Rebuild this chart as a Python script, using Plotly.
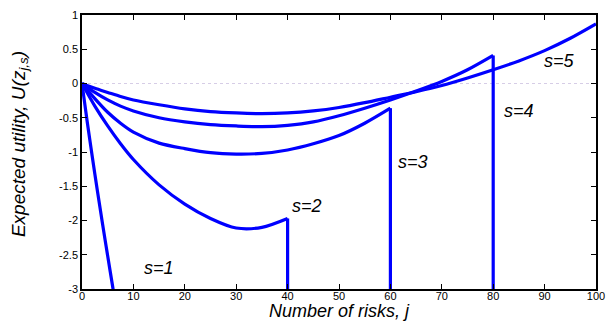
import plotly.graph_objects as go

# ---- data ----
j_s1 = [0, 1, 2, 3, 4, 5, 6, 7]
u_s1 = [0, -0.55, -1.07, -1.57, -2.05, -2.52, -2.98, -3.45]

j_s2 = [0, 2.5, 5, 7.5, 10, 15, 20, 25, 30, 35, 40]
u_s2 = [0, -0.33, -0.62, -0.88, -1.11, -1.48, -1.76, -1.97, -2.11, -2.10, -1.97]
drop_s2 = -3.5

j_s3 = [0, 2.5, 5, 7.5, 10, 15, 20, 25, 30, 35, 40, 45, 50, 55, 60]
u_s3 = [0, -0.22, -0.42, -0.58, -0.71, -0.87, -0.95, -1.01, -1.03, -1.02, -0.97, -0.88, -0.76, -0.58, -0.36]
drop_s3 = -3.5

j_s4 = [0, 2.5, 5, 7.5, 10, 15, 20, 25, 30, 35, 40, 45, 50, 55, 60, 65, 70, 75, 80]
u_s4 = [0, -0.13, -0.24, -0.33, -0.40, -0.50, -0.56, -0.60, -0.62, -0.63, -0.61, -0.56, -0.47, -0.36, -0.24, -0.11, 0.03, 0.20, 0.41]
drop_s4 = -3.5

j_s5 = [0, 2.5, 5, 7.5, 10, 15, 20, 25, 30, 35, 40, 45, 50, 55, 60, 65, 70, 75, 80, 85, 90, 95, 100]
u_s5 = [0, -0.07, -0.13, -0.19, -0.24, -0.31, -0.37, -0.41, -0.43, -0.44, -0.43, -0.40, -0.35, -0.28, -0.20, -0.12, -0.03, 0.08, 0.20, 0.33, 0.48, 0.66, 0.87]

zero_j = [0, 100]
zero_u = [0, 0]

label_text = ["s=1", "s=2", "s=3", "s=4", "s=5"]
label_j = [15, 43.8, 64.3, 85, 92.9]
label_u = [-2.7, -1.79, -1.14, -0.40, 0.33]

x_ticks = [0, 10, 20, 30, 40, 50, 60, 70, 80, 90, 100]
y_ticks = [1, 0.5, 0, -0.5, -1, -1.5, -2, -2.5, -3]

FONT = "Liberation Sans, Arial, Helvetica, sans-serif"
BLUE = "#0000ff"
LW = 3.2

fig = go.Figure()
fig.add_trace(go.Scatter(x=zero_j, y=zero_u, mode="lines",
                         line=dict(color="#d6cde6", width=1, dash="dot"),
                         hoverinfo="skip", showlegend=False))

# smooth curves
for jj, uu in [(j_s1, u_s1), (j_s2, u_s2), (j_s3, u_s3), (j_s4, u_s4), (j_s5, u_s5)]:
    fig.add_trace(go.Scatter(x=jj, y=uu, mode="lines",
                             line=dict(color=BLUE, width=LW, shape="spline", smoothing=0.8),
                             showlegend=False))

# vertical drops at the end of s=2..4
for jj, uu, d in [(j_s2, u_s2, drop_s2), (j_s3, u_s3, drop_s3), (j_s4, u_s4, drop_s4)]:
    fig.add_trace(go.Scatter(x=[jj[-1], jj[-1]], y=[uu[-1], d], mode="lines",
                             line=dict(color=BLUE, width=LW), showlegend=False))

for t, xj, yu in zip(label_text, label_j, label_u):
    fig.add_annotation(x=xj, y=yu, text="<i>" + t + "</i>", showarrow=False,
                       font=dict(family=FONT, size=18, color="black"),
                       xanchor="center", yanchor="middle")

axis_common = dict(showline=True, linecolor="black", linewidth=1.5, mirror="ticks",
                   ticks="inside", ticklen=5, tickcolor="black", showgrid=False,
                   zeroline=False, tickfont=dict(family=FONT, size=11, color="black"))

fig.update_xaxes(range=[0, 100], tickvals=x_ticks, ticklabelstandoff=-4,
                 ticktext=[str(v) for v in x_ticks], **axis_common)
fig.update_yaxes(range=[-3, 1], tickvals=y_ticks,
                 ticktext=[("-" if v < 0 else "") + (str(abs(v)).rstrip("0").rstrip(".") if v != 0 else "0") for v in y_ticks],
                 **axis_common)

fig.add_annotation(xref="paper", yref="paper", x=0.5, y=-0.081,
                   text="<i>Number of risks, j</i>", showarrow=False,
                   xanchor="center", yanchor="middle",
                   font=dict(family=FONT, size=18, color="black"))
fig.add_annotation(xref="paper", yref="paper", x=-0.122, y=0.53,
                   text="<i>Expected utility, U(z<sub>j,s</sub>)</i>", showarrow=False,
                   textangle=-90, xanchor="center", yanchor="middle",
                   font=dict(family=FONT, size=19, color="black"))

fig.update_layout(width=614, height=321, margin=dict(l=82, r=11, t=9, b=32),
                  plot_bgcolor="white", paper_bgcolor="white")

fig.write_html("out.html")
